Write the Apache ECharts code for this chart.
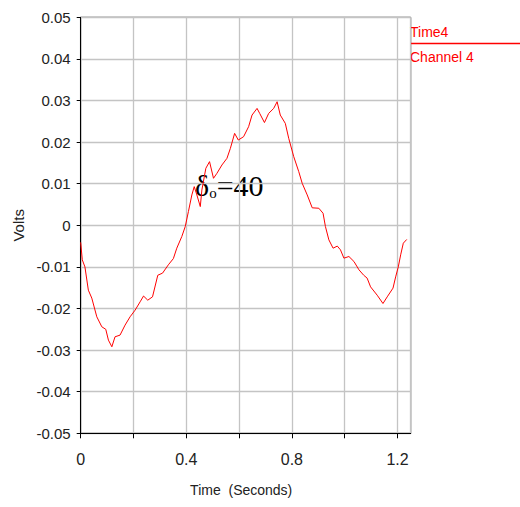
<!DOCTYPE html>
<html>
<head>
<meta charset="utf-8">
<script src="https://cdn.jsdelivr.net/npm/echarts@6/dist/echarts.min.js"></script>
<style>
html,body{margin:0;padding:0;background:#fff;}
#chart{width:520px;height:507px;}
</style>
</head>
<body>
<div id="chart"></div>
<script>
// Channel 4 trace, time in seconds
var times = [0.000,0.006,0.016,0.029,0.042,0.061,0.080,0.095,0.105,0.118,0.130,0.149,0.168,0.187,0.206,0.225,0.238,0.254,0.272,0.292,0.310,0.332,0.351,0.364,0.383,0.396,0.408,0.421,0.430,0.440,0.453,0.459,0.474,0.488,0.503,0.516,0.535,0.554,0.567,0.583,0.597,0.617,0.636,0.649,0.668,0.678,0.696,0.712,0.731,0.744,0.756,0.775,0.788,0.807,0.826,0.839,0.858,0.877,0.902,0.918,0.927,0.940,0.956,0.972,0.984,0.997,1.016,1.035,1.054,1.072,1.085,1.098,1.123,1.145,1.161,1.183,1.193,1.203,1.212,1.222,1.235];
var volts = [-0.0041,-0.0083,-0.0100,-0.0156,-0.0175,-0.0220,-0.0244,-0.0250,-0.0276,-0.0292,-0.0268,-0.0264,-0.0240,-0.0220,-0.0204,-0.0184,-0.0170,-0.0180,-0.0172,-0.0120,-0.0115,-0.0095,-0.0080,-0.0055,-0.0027,-0.0003,0.0033,0.0073,0.0093,0.0073,0.0045,0.0085,0.0137,0.0153,0.0113,0.0125,0.0145,0.0161,0.0185,0.0221,0.0205,0.0213,0.0237,0.0265,0.0281,0.0269,0.0247,0.0269,0.0281,0.0297,0.0265,0.0245,0.0209,0.0165,0.0129,0.0101,0.0073,0.0042,0.0041,0.0029,-0.0003,-0.0035,-0.0055,-0.0050,-0.0059,-0.0079,-0.0075,-0.0087,-0.0107,-0.0120,-0.0127,-0.0148,-0.0168,-0.0188,-0.0172,-0.0151,-0.0124,-0.0100,-0.0071,-0.0043,-0.0034];
var xLabeled = [0, 0.4, 0.8, 1.2];
var legendTop = "Time4";
var seriesName = "Channel 4";
var xName = "Time  (Seconds)";
var yName = "Volts";
var annotation = ["δ", "o", "=40"];

var data = times.map(function (t, i) { return [t, volts[i]]; });

var chart = echarts.init(document.getElementById('chart'), null, {renderer: 'svg'});
var font = 'Liberation Sans, Arial, sans-serif';
chart.setOption({
  animation: false,
  backgroundColor: '#ffffff',
  grid: {left: 80.7, right: 109.3, top: 17.3, bottom: 73.7, show: true, borderColor: '#000', borderWidth: 1, backgroundColor: 'transparent'},
  xAxis: {
    type: 'value', min: 0, max: 1.25, interval: 0.2,
    name: xName, nameLocation: 'middle', nameGap: 50,
    nameTextStyle: {fontFamily: font, fontSize: 14, color: '#222', padding: [0, 9, 0, 0]},
    axisLine: {onZero: false, lineStyle: {color: '#000', width: 1}},
    axisTick: {show: true, inside: false, length: 5, lineStyle: {color: '#000'}},
    axisLabel: {
      fontFamily: font, fontSize: 16, color: '#222', margin: 18,
      showMaxLabel: false,
      formatter: function (v) {
        for (var i = 0; i < xLabeled.length; i++) {
          if (Math.abs(v - xLabeled[i]) < 1e-6) return String(xLabeled[i]);
        }
        return '';
      }
    },
    splitLine: {show: true, lineStyle: {color: '#c4c4c4', width: 1.3}}
  },
  yAxis: {
    type: 'value', min: -0.05, max: 0.05, interval: 0.01,
    name: yName, nameLocation: 'middle', nameGap: 46,
    nameTextStyle: {fontFamily: font, fontSize: 15, color: '#222'},
    axisLine: {onZero: false, lineStyle: {color: '#000', width: 1}},
    axisTick: {show: true, inside: false, length: 4, lineStyle: {color: '#000'}},
    axisLabel: {
      fontFamily: font, fontSize: 15, color: '#222', margin: 10,
      formatter: function (v) {
        var r = Math.round(v * 100) / 100;
        if (r === 0) return '0';
        return r.toFixed(2);
      }
    },
    splitLine: {show: true, lineStyle: {color: '#c4c4c4', width: 1.3}}
  },
  series: [{
    name: seriesName,
    type: 'line',
    data: data,
    showSymbol: false,
    symbol: 'none',
    lineStyle: {color: '#ff0000', width: 1},
    itemStyle: {color: '#ff0000'}
  }],
  graphic: [
    {type: 'text', left: 410, top: 25, style: {text: legendTop, fill: '#ff0000', font: '14px ' + font}},
    {type: 'line', shape: {x1: 410, y1: 43.5, x2: 520, y2: 43.5}, style: {stroke: '#ff0000', lineWidth: 1.5}},
    {type: 'text', left: 410, top: 50, style: {text: seriesName, fill: '#ff0000', font: '14px ' + font}},
    {type: 'text', left: 195, top: 170, style: {
      text: '{a|' + annotation[0] + '}{s|' + annotation[1] + '}{a|' + annotation[2] + '}',
      rich: {
        a: {fontFamily: 'Liberation Serif, Times New Roman, serif', fontSize: 30, fill: '#000', verticalAlign: 'bottom'},
        s: {fontFamily: 'Liberation Serif, Times New Roman, serif', fontSize: 15, fill: '#000', verticalAlign: 'bottom'}
      }
    }}
  ]
});
</script>
</body>
</html>
